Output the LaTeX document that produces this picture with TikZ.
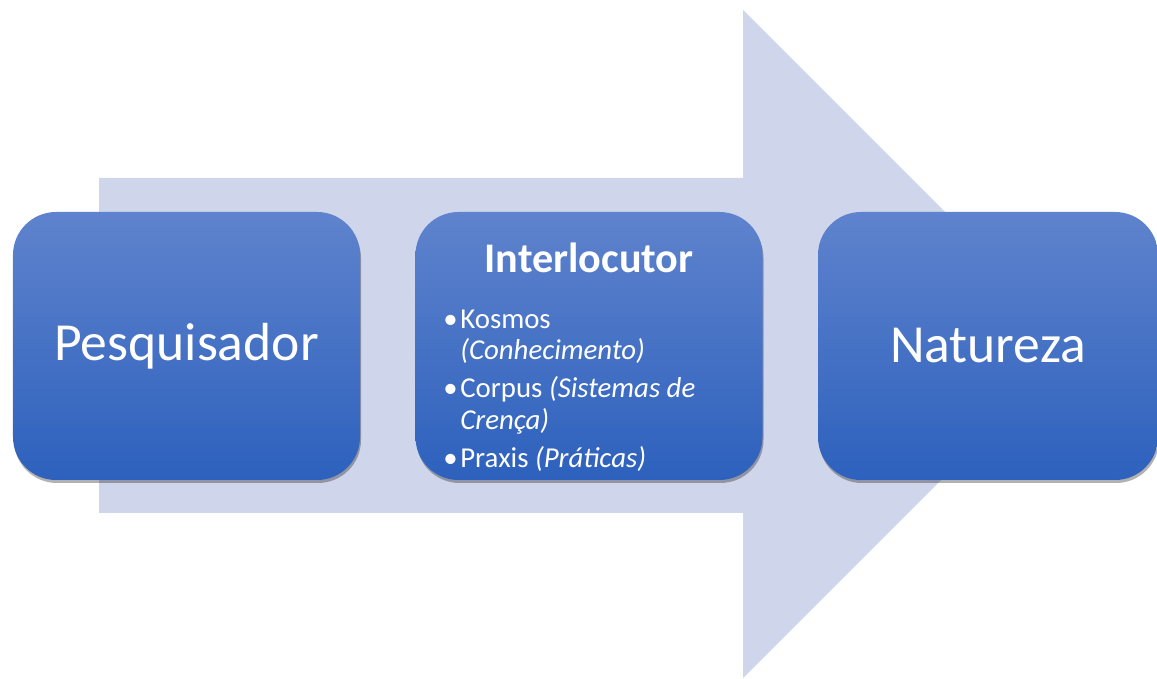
\documentclass[tikz,border=0pt]{standalone}
\usepackage{fontspec}
\setmainfont{Carlito}
\usepackage{tikz}
\usetikzlibrary{shadows, positioning}
\definecolor{boxtop}{RGB}{95,131,205}
\definecolor{boxbot}{RGB}{45,97,189}
\definecolor{arrowfill}{RGB}{207,213,234}
\tikzset{
  stage/.style={rectangle, rounded corners=0.86cm, top color=boxtop,
    bottom color=boxbot, draw=none, minimum width=6.94cm,
    minimum height=5.36cm, inner sep=0pt, text=white,
    font=\fontsize{30.5}{36}\selectfont,
    drop shadow={shadow xshift=0.02cm, shadow yshift=-0.06cm,
      opacity=0.3, fill=black}},
  titletext/.style={text=white, inner sep=0pt,
    font=\fontsize{24}{29}\selectfont\bfseries},
  listtext/.style={text=white, align=left, inner sep=0pt,
    font=\fontsize{16.4}{18}\selectfont},
  bigarrow/.style={fill=arrowfill, draw=none}
}
\newcommand{\itmark}{\textbullet\hspace{1.5pt}}

\begin{document}
\begin{tikzpicture}
  \useasboundingbox (0,0) rectangle (23.14,13.56);

  % Background arrow
  \fill[bigarrow] (1.98,10.0) -- (14.86,10.0) -- (14.86,13.36) -- (21.54,6.68)
    -- (14.86,0) -- (14.86,3.3) -- (1.98,3.3) -- cycle;

  % Stages
  \node[stage] (pesq) at (3.73,6.64) {Pesquisador};
  \node[stage] (inter) at (11.78,6.64) {};
  \node[stage, minimum width=6.8cm] (nat) at (19.76,6.64) {Natureza};

  % Interlocutor contents
  \node[titletext, anchor=base] (intertitle) at (11.78,8.1) {Interlocutor};
  \node[listtext, anchor=north west] (interlist) at (8.86,7.37) {%
    \itmark Kosmos\\
    \hphantom{\itmark}\textit{(Conhecimento)}\\[3.6pt]
    \itmark Corpus \textit{(Sistemas de}\\
    \hphantom{\itmark}\textit{Crença)}\\[3.6pt]
    \itmark Praxis \textit{(Práticas)}};
\end{tikzpicture}
\end{document}
